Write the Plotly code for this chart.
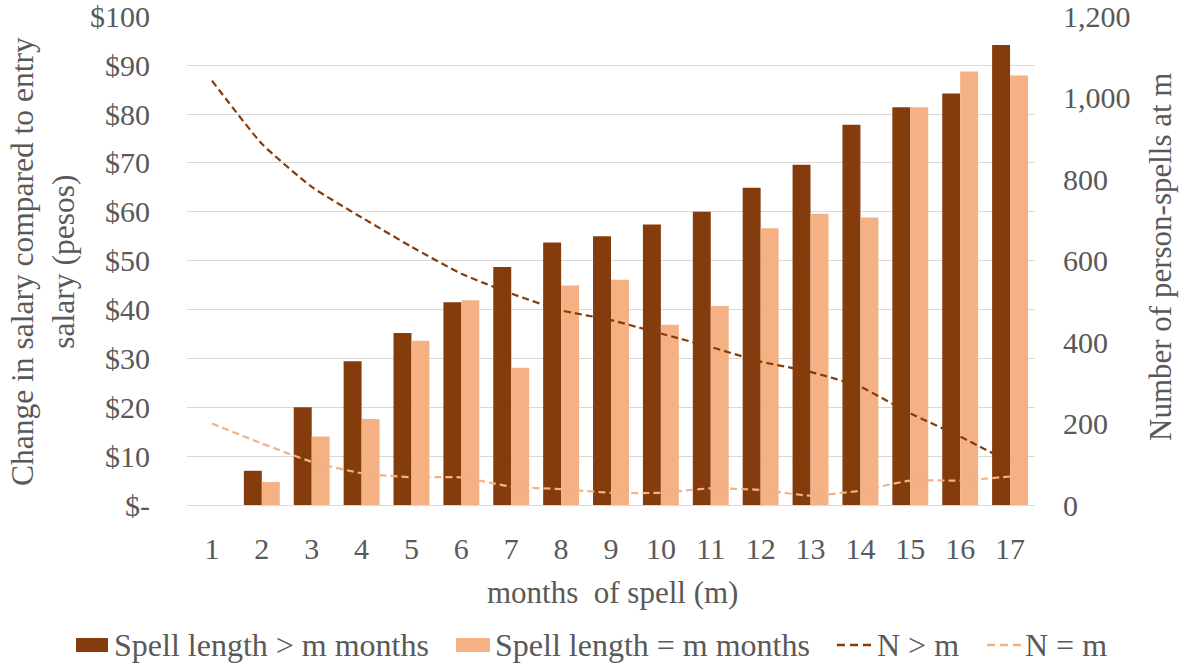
import plotly.graph_objects as go

months = list(range(1, 18))
# Mean change in salary (pesos) by month of spell
salary_longer = [None, 7.0, 20.0, 29.4, 35.2, 41.5, 48.7, 53.7, 55.0, 57.4, 60.0, 64.9, 69.6, 77.8, 81.4, 84.2, 94.1]
salary_equal = [None, 4.7, 14.0, 17.6, 33.6, 41.9, 28.1, 44.9, 46.1, 36.9, 40.7, 56.6, 59.6, 58.8, 81.4, 88.7, 87.9]
# Number of person-spells at m
n_longer = [1042, 887, 781, 706, 634, 568, 519, 478, 454, 421, 388, 352, 327, 290, 225, 168, 105]
n_equal = [200, 151, 106, 78, 68, 68, 45, 39, 30, 30, 41, 37, 23, 35, 60, 60, 70]

left_ticks = list(range(0, 101, 10))
left_labels = ["$-"] + [f"${v}" for v in left_ticks[1:]]
right_ticks = list(range(0, 1201, 200))
right_labels = [f"{v:,}" for v in right_ticks]

DARK = "#843C0C"
LIGHT = "#F4B183"
TEXT = "#595959"
GRID = "#D9D9D9"
FONT = "'Liberation Serif', 'Times New Roman', serif"
DASH = "7px,4px"

W, H = 1184, 666
L, R, T, B = 187, 149, 16, 161
PW, PH = W - L - R, H - T - B


def px(x):
    """Pixel column -> paper x."""
    return (x - L) / PW


def py(y):
    """Pixel row -> paper y."""
    return (H - B - y) / PH


fig = go.Figure()
fig.add_trace(go.Bar(x=months, y=salary_longer, name="Spell length > m months",
                     marker=dict(color=DARK, line=dict(width=0))))
fig.add_trace(go.Bar(x=months, y=salary_equal, name="Spell length = m months",
                     marker=dict(color=LIGHT, line=dict(width=0))))
fig.add_trace(go.Scatter(x=months, y=n_longer, name="N > m", yaxis="y2", mode="lines",
                         line=dict(color=DARK, width=2.2, dash=DASH, shape="spline", smoothing=0.5)))
fig.add_trace(go.Scatter(x=months, y=n_equal, name="N = m", yaxis="y2", mode="lines",
                         line=dict(color=LIGHT, width=2.2, dash=DASH, shape="spline", smoothing=0.5)))

fig.update_layout(
    width=W, height=H,
    margin=dict(l=L, r=R, t=T, b=B, autoexpand=False),
    paper_bgcolor="white", plot_bgcolor="white",
    font=dict(family=FONT, size=30, color=TEXT),
    barmode="group", bargap=0.28, bargroupgap=0,
    showlegend=False,
    xaxis=dict(tickmode="array", tickvals=months, ticktext=[str(m) for m in months],
               range=[0.5, 17.5], showgrid=False, showline=True, linecolor=GRID,
               linewidth=1, ticks="", ticklabelstandoff=17, zeroline=False,
               automargin=False, ticklabeloverflow="allow"),
    yaxis=dict(range=[0, 100.05], tickmode="array", tickvals=left_ticks, ticktext=left_labels,
               showgrid=True, gridcolor=GRID, gridwidth=1, zeroline=False,
               ticks="", ticklabelstandoff=36, showline=False, automargin=False,
               ticklabeloverflow="allow"),
    yaxis2=dict(range=[0, 1200.6], overlaying="y", side="right", tickmode="array",
                tickvals=right_ticks, ticktext=right_labels, showgrid=False,
                zeroline=False, ticks="", ticklabelstandoff=27, showline=False,
                automargin=False, ticklabeloverflow="allow"),
)

title_font = dict(family=FONT, size=31.5, color=TEXT)
fig.add_annotation(text="Change in salary compared to entry<br>salary (pesos)",
                   xref="paper", yref="paper", x=px(43), y=py(262), xanchor="center", yanchor="middle",
                   textangle=-90, showarrow=False, font=title_font)
fig.add_annotation(text="Number of person-spells at m",
                   xref="paper", yref="paper", x=px(1160), y=py(257), xanchor="center", yanchor="middle",
                   textangle=-90, showarrow=False, font=dict(family=FONT, size=31, color=TEXT))
fig.add_annotation(text="months  of spell (m)",
                   xref="paper", yref="paper", x=px(612), y=py(592), xanchor="center", yanchor="middle",
                   showarrow=False, font=dict(family=FONT, size=31, color=TEXT))

# Legend drawn below the plot: swatches for bars, dashed strokes for lines
legend_font = dict(family=FONT, size=32, color=TEXT)
ly = 645
legend_items = [
    ("rect", DARK, 76, 108, "Spell length > m months", 112),
    ("rect", LIGHT, 456, 490, "Spell length = m months", 493),
    ("line", DARK, 837, 874, "N > m", 875),
    ("line", LIGHT, 987, 1022, "N = m", 1023),
]
for kind, color, x0, x1, label, tx in legend_items:
    if kind == "rect":
        fig.add_shape(type="rect", xref="paper", yref="paper",
                      x0=px(x0), x1=px(x1), y0=py(ly + 7), y1=py(ly - 7),
                      fillcolor=color, line=dict(width=0))
    else:
        fig.add_shape(type="line", xref="paper", yref="paper",
                      x0=px(x0), x1=px(x1), y0=py(ly), y1=py(ly),
                      line=dict(color=color, width=2.5, dash="8px,5px"))
    fig.add_annotation(text=label, xref="paper", yref="paper", x=px(tx), y=py(ly),
                       xanchor="left", yanchor="middle", showarrow=False, font=legend_font)

fig.write_html("out.html")
